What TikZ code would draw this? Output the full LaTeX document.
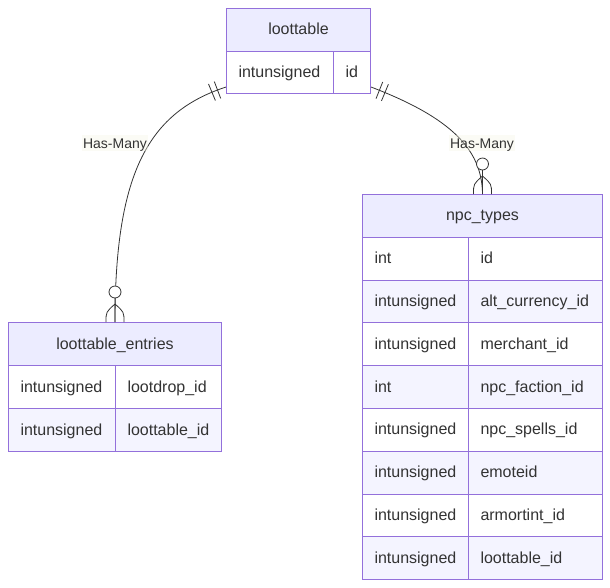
\documentclass[tikz,border=0pt]{standalone}
\usepackage{fontspec}
\setmainfont{Liberation Sans}
\usetikzlibrary{decorations.markings}
\definecolor{erstroke}{HTML}{9370DB}
\definecolor{erhead}{HTML}{ECECFF}
\definecolor{ereven}{HTML}{F4F4FF}
\definecolor{ertext}{HTML}{333333}
\definecolor{lblbg}{HTML}{F6F6E6}
\begin{document}
\begin{tikzpicture}[x=1pt,y=-1pt,
  cellbox/.style={draw=erstroke, line width=1pt, anchor=north west, inner ysep=0pt,
    font=\fontsize{16}{19}\selectfont, text=ertext, text height=12.5pt, text depth=2.5pt},
  headbox/.style={cellbox, fill=erhead, inner xsep=0pt, align=center},
  attrbox/.style={cellbox, inner xsep=12pt, align=left},
  oddrow/.style={fill=white},
  evenrow/.style={fill=ereven},
  reledge/.style={draw=ertext, line width=0.8pt},
  markline/.style={draw=ertext, line width=0.8pt},
  onlyone/.style={postaction={decorate, decoration={markings,
    mark=at position 9pt with {\draw[markline] (0,-9pt) -- (0,9pt);},
    mark=at position 15pt with {\draw[markline] (0,-9pt) -- (0,9pt);}
  }}},
  rellabel/.style={font=\fontsize{14}{16}\selectfont, text=ertext, fill=lblbg, fill opacity=0.4,
    text opacity=1, inner sep=1.5pt, text height=11.5pt, text depth=1.5pt}
]
\useasboundingbox (0,0) rectangle (610,587);

% loottable
\node[headbox, text width=144pt, minimum height=42.5pt] (lth) at (226,8) {loottable};
\node[attrbox, oddrow, text width=83pt, minimum height=42.5pt] (ltt1) at (226,50.5) {intunsigned};
\node[attrbox, oddrow, text width=13pt, minimum height=42.5pt] (ltn1) at (333,50.5) {id};

% loottable_entries
\node[headbox, text width=213pt, minimum height=43pt] (leh) at (8,322) {loottable\_entries};
\node[attrbox, oddrow, text width=83pt, minimum height=43pt] (let1) at (8,365) {intunsigned};
\node[attrbox, oddrow, text width=82pt, minimum height=43pt] (len1) at (115,365) {lootdrop\_id};
\node[attrbox, evenrow, text width=83pt, minimum height=43pt] (let2) at (8,408) {intunsigned};
\node[attrbox, evenrow, text width=82pt, minimum height=43pt] (len2) at (115,408) {loottable\_id};

% npc_types
\node[headbox, text width=240pt, minimum height=42.8pt] (nth) at (362,194) {npc\_types};
\node[attrbox, oddrow,  text width=82pt, minimum height=42.8pt] (ntt1) at (362,236.8) {int};
\node[attrbox, oddrow,  text width=110pt, minimum height=42.8pt] (ntn1) at (468,236.8) {id};
\node[attrbox, evenrow, text width=82pt, minimum height=42.8pt] (ntt2) at (362,279.6) {intunsigned};
\node[attrbox, evenrow, text width=110pt, minimum height=42.8pt] (ntn2) at (468,279.6) {alt\_currency\_id};
\node[attrbox, oddrow,  text width=82pt, minimum height=42.8pt] (ntt3) at (362,322.4) {intunsigned};
\node[attrbox, oddrow,  text width=110pt, minimum height=42.8pt] (ntn3) at (468,322.4) {merchant\_id};
\node[attrbox, evenrow, text width=82pt, minimum height=42.8pt] (ntt4) at (362,365.2) {int};
\node[attrbox, evenrow, text width=110pt, minimum height=42.8pt] (ntn4) at (468,365.2) {npc\_faction\_id};
\node[attrbox, oddrow,  text width=82pt, minimum height=42.8pt] (ntt5) at (362,408) {intunsigned};
\node[attrbox, oddrow,  text width=110pt, minimum height=42.8pt] (ntn5) at (468,408) {npc\_spells\_id};
\node[attrbox, evenrow, text width=82pt, minimum height=42.8pt] (ntt6) at (362,450.8) {intunsigned};
\node[attrbox, evenrow, text width=110pt, minimum height=42.8pt] (ntn6) at (468,450.8) {emoteid};
\node[attrbox, oddrow,  text width=82pt, minimum height=42.8pt] (ntt7) at (362,493.6) {intunsigned};
\node[attrbox, oddrow,  text width=110pt, minimum height=42.8pt] (ntn7) at (468,493.6) {armortint\_id};
\node[attrbox, evenrow, text width=82pt, minimum height=42.8pt] (ntt8) at (362,536.4) {intunsigned};
\node[attrbox, evenrow, text width=110pt, minimum height=42.8pt] (ntn8) at (468,536.4) {loottable\_id};

% relationships
\path[reledge, onlyone] ([yshift=7pt]ltt1.south west) .. controls (150,112) and (115,170) .. (leh.north);
\path[reledge, onlyone] ([yshift=7pt]ltn1.south east) .. controls (452,118) and (482,150) .. (nth.north);

% zero-or-more markers (ends of both edges are vertical)
\foreach \e in {leh, nth} {
  \begin{scope}[shift={(\e.north)}]
    \draw[markline, fill=white] (0,-30) circle (6pt);
    \draw[markline] (0,-18) .. controls (-9,-10) .. (-9,0)
                    (0,-18) .. controls (9,-10) .. (9,0)
                    (0,-24) -- (0,0);
  \end{scope}
}

\node[rellabel] (lbl1) at (115,143) {Has-Many};
\node[rellabel] (lbl2) at (482,143) {Has-Many};
\end{tikzpicture}
\end{document}
